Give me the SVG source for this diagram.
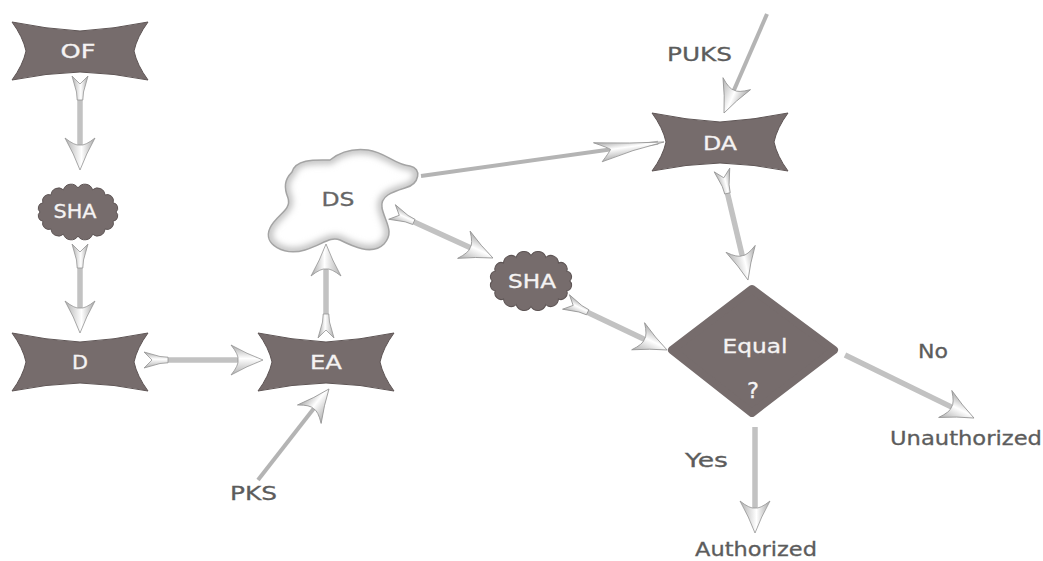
<svg xmlns="http://www.w3.org/2000/svg" width="1043" height="561" viewBox="0 0 1043 561">
<style>
.node{fill:#766c6c;stroke:#5e5555;stroke-width:1}
.ntext{font-family:"DejaVu Sans","Liberation Sans",Arial,sans-serif;font-size:19px;fill:#f5f3f3;stroke:#f5f3f3;stroke-width:0.3;text-anchor:middle}
.lbl{font-family:"DejaVu Sans","Liberation Sans",Arial,sans-serif;font-size:19px;fill:#5c5c5c;stroke:#5c5c5c;stroke-width:0.3}
.shaft{fill:none;stroke:#c2c2c2;stroke-width:5.5;stroke-linecap:butt}
.thin{fill:none;stroke:#b4b4b4;stroke-width:4}
</style>
<defs>
<linearGradient id="hg" x1="0" y1="0" x2="0" y2="1">
<stop offset="0" stop-color="#a8a8a8"/>
<stop offset="0.45" stop-color="#ffffff"/>
<stop offset="1" stop-color="#b0b0b0"/>
</linearGradient>
<filter id="blur" x="-10%" y="-10%" width="120%" height="120%">
<feGaussianBlur stdDeviation="3"/>
</filter>
<path id="dsshape" d="M292,172 C296,158 318,160 330,160 C340,152 352,148 368,150 C385,152 395,165 410,166 C422,168 420,184 405,188 C392,192 380,196 382,208 C385,222 395,232 384,244 C372,256 352,246 340,240 C330,236 322,245 305,250 C285,256 262,245 270,228 C276,215 292,210 288,198 C284,188 284,180 292,172 Z"/>
<clipPath id="dsclip"><use href="#dsshape"/></clipPath>
<path id="bow" d="M-68,-29 Q-34,-22 0,-20 Q34,-22 68,-29 Q57,-14 54,0 Q57,14 68,29 Q34,22 0,21 Q-34,22 -68,29 Q-57,14 -54,0 Q-57,-14 -68,-29 Z"/>
<path id="cloud" d="M38,0 A5.3,5.3 0 0 1 35.1,9.2 A6.2,6.2 0 0 1 26.9,17 A7.4,7.4 0 0 1 14.6,22.2 A8.1,8.1 0 0 1 0,24 A8.1,8.1 0 0 1 -14.6,22.2 A7.4,7.4 0 0 1 -26.9,17 A6.2,6.2 0 0 1 -35.1,9.2 A5.3,5.3 0 0 1 -38,0 A5.3,5.3 0 0 1 -35.1,-9.2 A6.2,6.2 0 0 1 -26.9,-17 A7.4,7.4 0 0 1 -14.6,-22.2 A8.1,8.1 0 0 1 0,-24 A8.1,8.1 0 0 1 14.6,-22.2 A7.4,7.4 0 0 1 26.9,-17 A6.2,6.2 0 0 1 35.1,-9.2 A5.3,5.3 0 0 1 38,0 Z"/>
<marker id="head" markerUnits="userSpaceOnUse" orient="auto" overflow="visible" markerWidth="1" markerHeight="1" refX="0" refY="0">
<path d="M6,0 Q-10,-6 -26,-15 Q-18,-5 -19,0 Q-18,5 -26,15 Q-10,6 6,0 Z" fill="url(#hg)" stroke="#949494" stroke-width="0.8"/>
</marker>
<marker id="headlong" markerUnits="userSpaceOnUse" orient="auto" overflow="visible" markerWidth="1" markerHeight="1" refX="0" refY="0">
<path d="M6,0 Q-28,-3 -64,-9 Q-50,-2 -48,0 Q-50,3 -58,11 Q-26,3 6,0 Z" fill="url(#hg)" stroke="#949494" stroke-width="0.8"/>
</marker>
<marker id="tail" markerUnits="userSpaceOnUse" orient="auto" overflow="visible" markerWidth="1" markerHeight="1" refX="0" refY="0">
<path d="M-8,-8 L8,-3.5 L16,-2.8 L16,2.8 L8,3.5 L-8,8 L0,0 Z" fill="url(#hg)" stroke="#949494" stroke-width="0.8"/>
</marker>
</defs>

<g id="connectors">
<path class="shaft" d="M80,84 L80,164" marker-start="url(#tail)" marker-end="url(#head)"/>
<path class="shaft" d="M80,252 L80,327" marker-start="url(#tail)" marker-end="url(#head)"/>
<path class="shaft" d="M152,360 L257,360" marker-start="url(#tail)" marker-end="url(#head)"/>
<path class="shaft" d="M326,330 L326,250" marker-start="url(#tail)" marker-end="url(#head)"/>
<path class="thin" d="M258,480 L325.3,393.7" marker-end="url(#head)"/>
<path class="thin" d="M421,176 L658.1,142.8" marker-end="url(#headlong)"/>
<path class="thin" d="M767,14 L726.4,107.5" marker-end="url(#head)"/>
<path class="shaft" d="M723.8,177.8 L746.6,274.2" marker-start="url(#tail)" marker-end="url(#head)"/>
<path class="shaft" d="M399.3,215.3 L487.5,255.5" marker-start="url(#tail)" marker-end="url(#head)"/>
<path class="shaft" d="M573.2,305.4 L661.6,347.4" marker-start="url(#tail)" marker-end="url(#head)"/>
<path class="shaft" d="M755,427 L755,527" marker-end="url(#head)"/>
<path class="shaft" d="M845,355 L968.6,415.4" marker-end="url(#head)"/>
</g>

<g id="node-of">
<use href="#bow" class="node" x="80" y="51"/>
<text class="ntext" x="78" y="58" textLength="35" lengthAdjust="spacingAndGlyphs">OF</text>
</g>
<g id="node-sha1">
<use href="#cloud" class="node" x="78" y="212"/>
<text class="ntext" x="75" y="218" textLength="43" lengthAdjust="spacingAndGlyphs">SHA</text>
</g>
<g id="node-d">
<use href="#bow" class="node" x="80" y="362"/>
<text class="ntext" x="80" y="369" textLength="16" lengthAdjust="spacingAndGlyphs">D</text>
</g>
<g id="node-ea">
<use href="#bow" class="node" x="326" y="362"/>
<text class="ntext" x="326" y="369" textLength="32" lengthAdjust="spacingAndGlyphs">EA</text>
</g>
<g id="node-ds">
<use href="#dsshape" fill="#ffffff"/>
<g clip-path="url(#dsclip)"><use href="#dsshape" fill="none" stroke="#c4c4c4" stroke-width="9" filter="url(#blur)"/></g>
<use href="#dsshape" fill="none" stroke="#a4a4a4" stroke-width="1.5"/>
<text class="ntext" x="338" y="206" textLength="33" lengthAdjust="spacingAndGlyphs" style="fill:#666666;stroke:#666666">DS</text>
</g>
<g id="node-da">
<use href="#bow" class="node" x="720" y="142"/>
<text class="ntext" x="720" y="150" textLength="34" lengthAdjust="spacingAndGlyphs">DA</text>
</g>
<g id="node-sha2">
<use href="#cloud" class="node" transform="translate(531,281) scale(1.02,1.06)"/>
<text class="ntext" x="532" y="288" textLength="48" lengthAdjust="spacingAndGlyphs">SHA</text>
</g>
<g id="node-equal">
<path d="M752,289 L834,350 L752,413 L672,350 Z" fill="#766c6c" stroke="#766c6c" stroke-width="8" stroke-linejoin="round"/>
<text class="ntext" x="755" y="353" textLength="65" lengthAdjust="spacingAndGlyphs">Equal</text>
<text class="ntext" x="753" y="398" style="font-size:21px" textLength="12" lengthAdjust="spacingAndGlyphs">?</text>
</g>
<g id="labels">
<text class="lbl" x="667" y="61" textLength="65" lengthAdjust="spacingAndGlyphs">PUKS</text>
<text class="lbl" x="230" y="500" textLength="47" lengthAdjust="spacingAndGlyphs">PKS</text>
<text class="lbl" x="685" y="467" textLength="43" lengthAdjust="spacingAndGlyphs">Yes</text>
<text class="lbl" x="918" y="358" textLength="30" lengthAdjust="spacingAndGlyphs">No</text>
<text class="lbl" x="890" y="445" textLength="152" lengthAdjust="spacingAndGlyphs">Unauthorized</text>
<text class="lbl" x="695" y="556" textLength="122" lengthAdjust="spacingAndGlyphs">Authorized</text>
</g>
</svg>
